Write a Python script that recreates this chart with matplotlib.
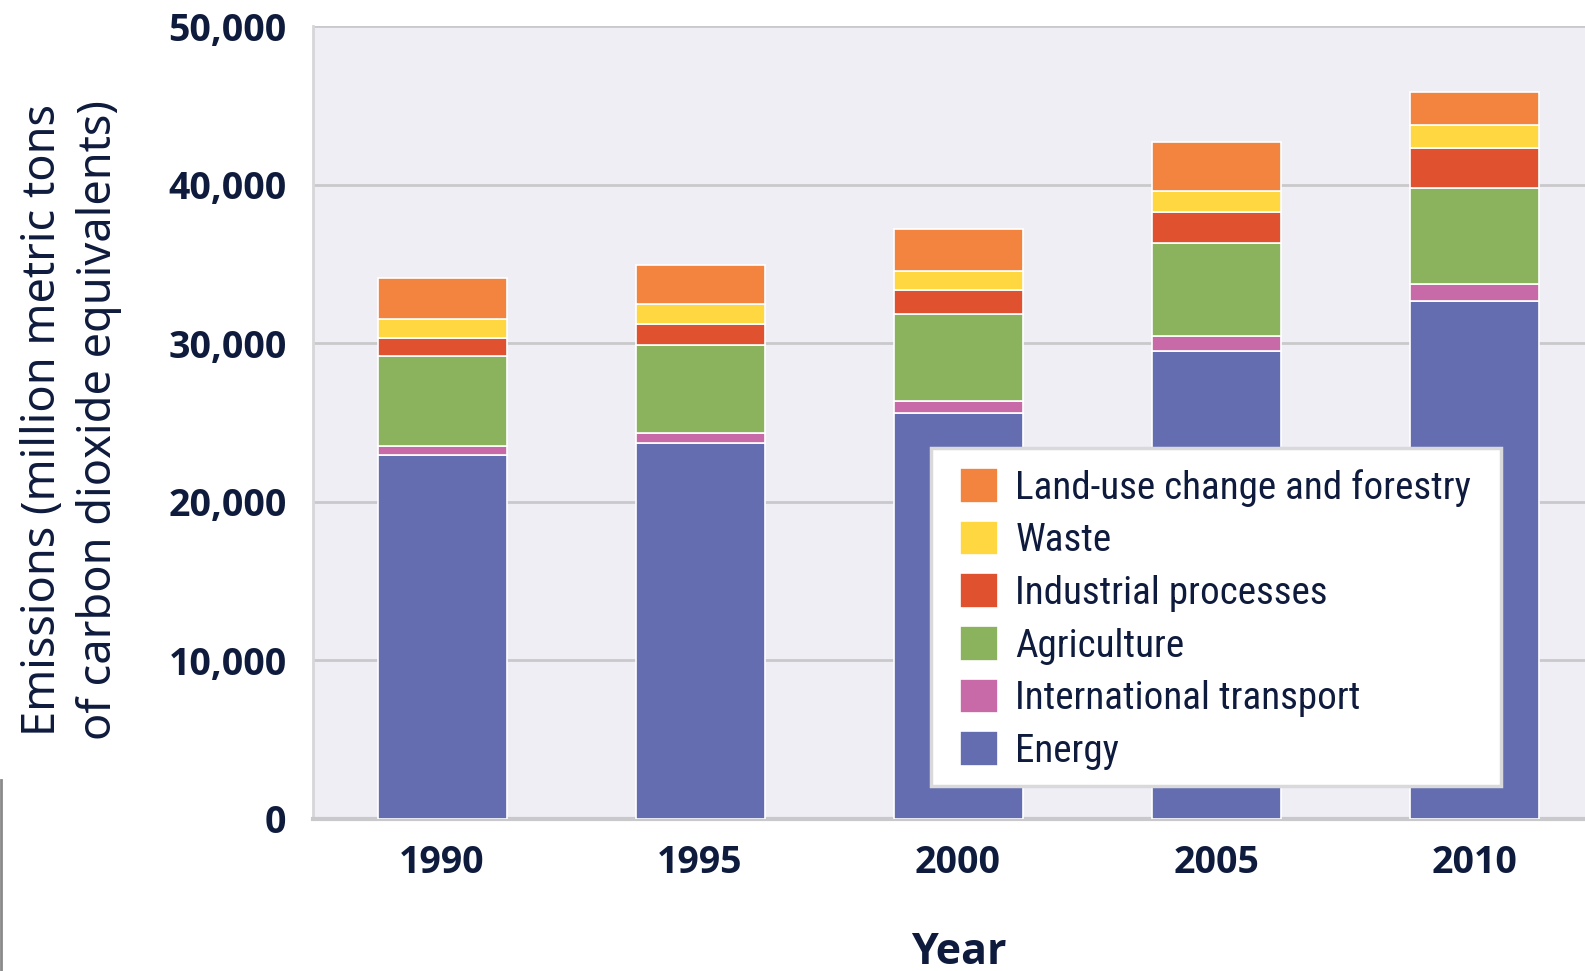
import matplotlib
matplotlib.use("Agg")
import matplotlib.pyplot as plt
from matplotlib.lines import Line2D
from matplotlib.patches import Rectangle
from matplotlib import font_manager as fm
import numpy as np

years = ["1990", "1995", "2000", "2005", "2010"]
energy = [22950, 23690, 25580, 29510, 32670]
intl_transport = [590, 630, 780, 950, 1070]
agriculture = [5680, 5570, 5470, 5850, 6040]
industrial = [1110, 1330, 1530, 1990, 2520]
waste = [1200, 1240, 1200, 1310, 1470]
land_use = [2570, 2480, 2650, 3110, 2100]

series = [
    ("Energy", energy, "#636db0"),
    ("International transport", intl_transport, "#c86aa8"),
    ("Agriculture", agriculture, "#8bb35e"),
    ("Industrial processes", industrial, "#e05130"),
    ("Waste", waste, "#ffd740"),
    ("Land-use change and forestry", land_use, "#f38440"),
]
legend_order = ["Land-use change and forestry", "Waste", "Industrial processes",
                "Agriculture", "International transport", "Energy"]
yticks = [0, 10000, 20000, 30000, 40000, 50000]
ytick_labels = ["0", "10,000", "20,000", "30,000", "40,000", "50,000"]
ylabel_text = "Emissions (million metric tons\nof carbon dioxide equivalents)"
xlabel_text = "Year"

BOLD = ["Open Sans", "DejaVu Sans"]
DARK = "#0f1b3d"
W, H = 1585, 971


def pick_narrow_font():
    prefer = ["Noto Sans", "Open Sans", "Roboto", "Lato", "Liberation Sans",
              "DejaVu Sans", "Inter"]
    found = []
    for f in fm.fontManager.ttflist:
        nm = f.name
        narrow = (str(f.stretch) not in ("normal", "500")) or \
                 ("Narrow" in nm) or ("Condensed" in nm)
        st = str(f.stretch)
        if not narrow or "expanded" in st or f.style != "normal":
            continue
        try:
            wt = int(f.weight)
        except Exception:
            wt = 400 if str(f.weight) in ("normal", "regular", "book") else 700
        if not (350 <= wt <= 500):
            continue
        base = nm.replace(" Narrow", "").replace(" Condensed", "")
        rank = prefer.index(base) if base in prefer else len(prefer)
        found.append((rank, abs(wt - 400), f.fname))
    if found:
        found.sort()
        return fm.FontProperties(fname=found[0][2])
    return fm.FontProperties(family="Noto Sans")


fig = plt.figure(figsize=(W / 100, H / 100), dpi=100)
fig.patch.set_facecolor("white")
renderer = fig.canvas.get_renderer()


def text_size_px(s, fp, size):
    fp = fp.copy()
    fp.set_size(size)
    t = fig.text(0, 0, s, fontproperties=fp)
    bb = t.get_window_extent(renderer)
    t.remove()
    return bb.width, bb.height


ax = fig.add_axes([313 / W, 1 - 818.8 / H, 1 - 313 / W, (818.8 - 26.3) / H])
ax.set_facecolor("#f0eef5")

x = np.arange(len(years))
bottom = np.zeros(len(years))
handles = {}
for name, vals, col in series:
    v = np.array(vals, dtype=float)
    b = ax.bar(x, v, width=0.5, bottom=bottom, color=col, edgecolor="white",
               linewidth=1.2, zorder=3, label=name)
    handles[name] = b
    bottom += v

ax.set_xlim(-0.5, 4.43)
ax.set_ylim(0, 50000)
ax.set_yticks(yticks)
ax.set_yticklabels(ytick_labels)
ax.set_xticks(x)
ax.set_xticklabels(years)
ax.yaxis.grid(True, color="#c9c9cc", linewidth=2, zorder=0)
ax.set_axisbelow(True)
ax.tick_params(axis="both", length=0, labelcolor=DARK, labelsize=27)
ax.tick_params(axis="y", pad=19)
ax.tick_params(axis="x", pad=18.5)
for lab in ax.get_xticklabels() + ax.get_yticklabels():
    lab.set_fontweight("bold")
    lab.set_family(BOLD)
for s in ["top", "right"]:
    ax.spines[s].set_visible(False)
ax.spines["left"].set_color("#d6d6d8")
ax.spines["left"].set_linewidth(2)
ax.spines["bottom"].set_color("#c9c9cc")
ax.spines["bottom"].set_linewidth(3)

fig.text(959 / W, 1 - 964 / H, xlabel_text, ha="center", va="baseline",
         fontsize=31, fontweight="bold", color=DARK, family=BOLD)

# y label: size chosen so the first line spans ~632 px like the reference
yl_fp = fm.FontProperties(family=["Noto Sans", "DejaVu Sans"])
w0, _ = text_size_px(ylabel_text.split("\n")[0], yl_fp, 30)
yl_size = min(30 * 632 / w0, 34)
fig.text(71 / W, 1 - 420 / H, ylabel_text, rotation=90, ha="center",
         va="center", multialignment="center", fontsize=yl_size, color=DARK,
         family=["Noto Sans", "DejaVu Sans"], linespacing=1.28)

# legend with a narrow font, width matched to reference (~457 px)
lg_fp = pick_narrow_font()
w0, _ = text_size_px(legend_order[0], lg_fp, 29)
lg_size = min(29 * 457 / w0, 29)
lg_fp = lg_fp.copy()
lg_fp.set_size(lg_size)
fs_px = lg_size * 100 / 72
_, th = text_size_px("Waste", lg_fp, lg_size)
patch_px = 38.4
pitch = 52.4
row_h = max(th, patch_px)
labelspacing = max((pitch - row_h) / fs_px, 0.0)

leg = ax.legend([handles[n] for n in legend_order], legend_order,
                loc="upper left", bbox_to_anchor=(960 / W, 1 - 460 / H),
                bbox_transform=fig.transFigure, borderaxespad=0, borderpad=0,
                prop=lg_fp, frameon=False, handlelength=patch_px / fs_px,
                handleheight=patch_px / fs_px, handletextpad=17 / fs_px,
                labelspacing=labelspacing)
leg.set_zorder(6)
for t in leg.get_texts():
    t.set_color(DARK)

# align first legend patch to reference position (top-left at 960, 468)
fig.canvas.draw()
hb = leg.legend_handles[0].get_window_extent(renderer)
dx = 960 - hb.x0
dy = (H - 468) - hb.y1
leg.set_bbox_to_anchor((960 / W + dx / W, 1 - 460 / H + dy / H),
                       transform=fig.transFigure)

frame = Rectangle((931 / W, 1 - 786 / H), (1501 - 931) / W, (786 - 448) / H,
                  transform=fig.transFigure, facecolor="white",
                  edgecolor="#d9d9dc", linewidth=2.5, zorder=5)
ax.add_artist(frame)
frame.set_clip_on(False)

fig.add_artist(Line2D([1 / W, 1 / W], [0, 1 - 780 / H], transform=fig.transFigure,
                      color="#8a8a8a", linewidth=2))

fig.savefig("out.png", dpi=100)
